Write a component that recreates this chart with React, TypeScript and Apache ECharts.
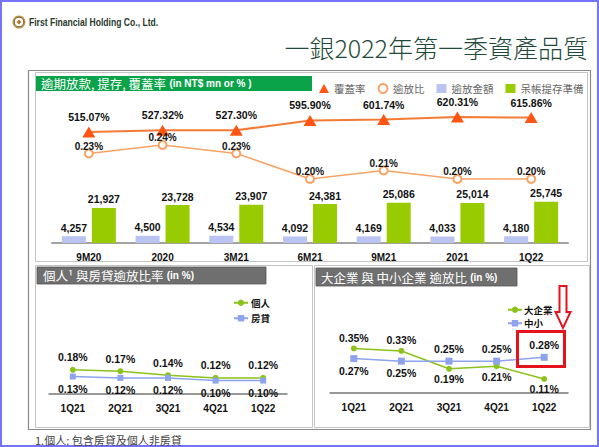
import React, { useEffect, useRef } from "react";
import * as echarts from "echarts";

// ---- data ----
const topCategories = ["9M20", "2020", "3M21", "6M21", "9M21", "2021", "1Q22"];
const nplAmount = [4257, 4500, 4534, 4092, 4169, 4033, 4180];
const provisions = [21927, 23728, 23907, 24381, 25086, 25014, 25745];
const coverageRatio = [515.07, 527.32, 527.3, 595.9, 601.74, 620.31, 615.86];
const nplRatio = [0.23, 0.24, 0.23, 0.2, 0.21, 0.2, 0.2];

const quarters = ["1Q21", "2Q21", "3Q21", "4Q21", "1Q22"];
const personal = [0.18, 0.17, 0.14, 0.12, 0.12];
const mortgage = [0.13, 0.12, 0.12, 0.1, 0.1];
const corporate = [0.35, 0.33, 0.19, 0.21, 0.11];
const sme = [0.27, 0.25, 0.25, 0.25, 0.28];

const corporateLabelPos = ["top", "top", "bottom", "bottom", "bottom"];
const smeLabelPos = ["bottom", "bottom", "top", "top", "top"];

const NUM_FONT = "'Liberation Sans', Arial, Helvetica, sans-serif";
const CJK_FONT = "'Noto Sans CJK TC', 'Noto Sans CJK SC', sans-serif";

const GREEN = "#99cc00";
const BLUE_BAR = "#b9c4f2";
const ORANGE = "#f47b36";
const ORANGE_LIGHT = "#f8a366";
const LINE_GREEN = "#8cc21c";
const LINE_BLUE = "#8ea3ee";

const numLabel = {
  show: true,
  fontFamily: NUM_FONT,
  fontWeight: "bold" as const,
  fontSize: 10.5,
  color: "#111",
};

export default function App() {
  const ref = useRef<HTMLDivElement>(null);

  useEffect(() => {
    if (!ref.current) return;
    const chart = echarts.init(ref.current, undefined, { renderer: "svg" });

    const pct = (p: any) => Number(p.value).toFixed(2) + "%";

    const option: any = {
      animation: false,
      backgroundColor: "#fff",
      grid: [
        { left: 52, width: 516, top: 100, height: 143 },
        { left: 49, width: 238, top: 300, height: 94 },
        { left: 330, width: 238, top: 300, height: 93 },
      ],
      xAxis: [
        {
          type: "category",
          gridIndex: 0,
          data: topCategories,
          axisLine: { lineStyle: { color: "#a3a3a3", width: 2 } },
          axisTick: { show: false },
          axisLabel: { fontFamily: NUM_FONT, fontWeight: "bold", fontSize: 10, color: "#111", margin: 9 },
        },
        {
          type: "category",
          gridIndex: 1,
          data: quarters,
          axisLine: { lineStyle: { color: "#777", width: 1.5 } },
          axisTick: { show: false },
          axisLabel: { fontFamily: NUM_FONT, fontWeight: "bold", fontSize: 10, color: "#111", margin: 9 },
        },
        {
          type: "category",
          gridIndex: 2,
          data: quarters,
          axisLine: { lineStyle: { color: "#777", width: 1.5 } },
          axisTick: { show: false },
          axisLabel: { fontFamily: NUM_FONT, fontWeight: "bold", fontSize: 10, color: "#111", margin: 9 },
        },
      ],
      yAxis: [
        { type: "value", gridIndex: 0, min: 0, max: 89400, show: false, splitLine: { show: false } },
        { type: "value", gridIndex: 0, min: -262, max: 739, show: false, splitLine: { show: false } },
        { type: "value", gridIndex: 0, min: 0.1247, max: 0.2929, show: false, splitLine: { show: false } },
        { type: "value", gridIndex: 1, min: 0, max: 0.7, show: false, splitLine: { show: false } },
        { type: "value", gridIndex: 2, min: 0, max: 0.73, show: false, splitLine: { show: false } },
      ],
      legend: [
        {
          left: 319,
          top: 83,
          padding: 0,
          itemWidth: 10,
          itemHeight: 9,
          itemGap: 12,
          textStyle: { fontFamily: CJK_FONT, fontSize: 10.5, color: "#666" },
          data: [
            { name: "覆蓋率", icon: "triangle" },
            { name: "逾放比", icon: "emptyCircle" },
            { name: "逾放金額", icon: "rect" },
            { name: "呆帳提存準備", icon: "rect" },
          ],
        },
        {
          left: 233,
          top: 298,
          padding: 0,
          orient: "vertical",
          itemWidth: 14,
          itemHeight: 8,
          itemGap: 6,
          textStyle: { fontFamily: CJK_FONT, fontSize: 9.5, fontWeight: "bold", color: "#111", padding: [0, 0, 0, -2] },
          data: ["個人", "房貸"],
        },
        {
          left: 507,
          top: 305,
          padding: 0,
          orient: "vertical",
          itemWidth: 14,
          itemHeight: 8,
          itemGap: 4,
          textStyle: { fontFamily: CJK_FONT, fontSize: 9.5, fontWeight: "bold", color: "#111", padding: [0, 0, 0, -3] },
          data: ["大企業", "中小"],
        },
      ],
      series: [
        {
          name: "逾放金額",
          type: "bar",
          xAxisIndex: 0,
          yAxisIndex: 0,
          data: nplAmount,
          barWidth: 24,
          barGap: "25%",
          itemStyle: { color: BLUE_BAR },
          label: {
            ...numLabel,
            position: "top",
            distance: 3,
            formatter: (p: any) => Number(p.value).toLocaleString("en-US"),
          },
        },
        {
          name: "呆帳提存準備",
          type: "bar",
          xAxisIndex: 0,
          yAxisIndex: 0,
          data: provisions,
          barWidth: 24,
          barGap: "25%",
          itemStyle: { color: GREEN },
          label: {
            ...numLabel,
            position: "top",
            distance: 3,
            formatter: (p: any) => Number(p.value).toLocaleString("en-US"),
          },
        },
        {
          name: "覆蓋率",
          type: "line",
          xAxisIndex: 0,
          yAxisIndex: 1,
          data: coverageRatio,
          symbol: "triangle",
          symbolSize: [13, 11],
          lineStyle: { color: ORANGE, width: 2 },
          itemStyle: { color: "#ff5512" },
          label: { ...numLabel, position: "top", distance: 4, formatter: pct },
        },
        {
          name: "逾放比",
          type: "line",
          xAxisIndex: 0,
          yAxisIndex: 2,
          data: nplRatio,
          symbol: "emptyCircle",
          symbolSize: 8,
          lineStyle: { color: ORANGE_LIGHT, width: 1.5 },
          itemStyle: { color: ORANGE_LIGHT, borderWidth: 1.5 },
          label: { ...numLabel, fontSize: 10, position: "top", distance: -3, formatter: pct },
        },
        {
          name: "個人",
          type: "line",
          xAxisIndex: 1,
          yAxisIndex: 3,
          data: personal,
          symbol: "circle",
          symbolSize: 6,
          lineStyle: { color: LINE_GREEN, width: 1.5 },
          itemStyle: { color: LINE_GREEN },
          label: { ...numLabel, position: "top", distance: 4, formatter: pct },
        },
        {
          name: "房貸",
          type: "line",
          xAxisIndex: 1,
          yAxisIndex: 3,
          data: mortgage,
          symbol: "rect",
          symbolSize: 6,
          lineStyle: { color: LINE_BLUE, width: 1.5 },
          itemStyle: { color: LINE_BLUE },
          label: { ...numLabel, position: "bottom", distance: 4, formatter: pct },
        },
        {
          name: "大企業",
          type: "line",
          xAxisIndex: 2,
          yAxisIndex: 4,
          data: corporate.map((v, i) => ({ value: v, label: { position: corporateLabelPos[i] } })),
          symbol: "circle",
          symbolSize: 6,
          lineStyle: { color: LINE_GREEN, width: 1.5 },
          itemStyle: { color: LINE_GREEN },
          label: { ...numLabel, distance: 2, formatter: pct },
        },
        {
          name: "中小",
          type: "line",
          xAxisIndex: 2,
          yAxisIndex: 4,
          data: sme.map((v, i) => ({ value: v, label: { position: smeLabelPos[i] } })),
          symbol: "rect",
          symbolSize: 7,
          lineStyle: { color: LINE_BLUE, width: 1.5 },
          itemStyle: { color: LINE_BLUE },
          label: { ...numLabel, distance: 3, formatter: pct },
        },
      ],
      graphic: [
        // page border
        { type: "rect", z: -10, shape: { x: 1, y: 1, width: 597, height: 445 }, style: { fill: "none", stroke: "#7474ff", lineWidth: 2 } },
        // logo
        { type: "circle", shape: { cx: 19, cy: 22, r: 6.5 }, style: { fill: "#c59a43" } },
        { type: "circle", shape: { cx: 19, cy: 22, r: 4.8 }, style: { fill: "#fff", stroke: "#4a3a22", lineWidth: 0.8 } },
        { type: "polygon", shape: { points: [[19, 19.5], [21.5, 22], [19, 24.5], [16.5, 22]] }, style: { fill: "#b5782c" } },
        {
          type: "text",
          x: 29,
          y: 22,
          scaleX: 0.78,
          style: {
            text: "First Financial Holding Co., Ltd.",
            fontFamily: NUM_FONT,
            fontWeight: "bold",
            fontSize: 11,
            fill: "#2b3a2e",
            textVerticalAlign: "middle",
          },
        },
        // title
        {
          type: "text",
          x: 588,
          y: 47,
          style: {
            text: "一銀2022年第一季資產品質",
            fontFamily: CJK_FONT,
            fontWeight: 300,
            fontSize: 25,
            fill: "#1f4a3b",
            textAlign: "right",
            textVerticalAlign: "middle",
          },
        },
        // frames
        { type: "rect", z: -5, shape: { x: 28.5, y: 70.5, width: 562, height: 359 }, style: { fill: "none", stroke: "#8a8a8a", lineWidth: 1.2 } },
        { type: "rect", z: -5, shape: { x: 35.5, y: 72.5, width: 552, height: 189 }, style: { fill: "none", stroke: "#c4c4c4", lineWidth: 1 } },
        { type: "rect", z: -5, shape: { x: 35.5, y: 265.5, width: 277, height: 162 }, style: { fill: "none", stroke: "#c4c4c4", lineWidth: 1 } },
        { type: "rect", z: -5, shape: { x: 314.5, y: 265.5, width: 275, height: 162 }, style: { fill: "none", stroke: "#c4c4c4", lineWidth: 1 } },
        // headers
        { type: "rect", shape: { x: 36, y: 76, width: 276, height: 15 }, style: { fill: "#0aa34a" } },
        {
          type: "text",
          x: 41,
          y: 83.5,
          style: {
            text: "{a|逾期放款, 提存, 覆蓋率} {b|(in NT$ mn or % )}",
            textVerticalAlign: "middle",
            rich: {
              a: { fontFamily: CJK_FONT, fontSize: 12.5, fill: "#fff" },
              b: { fontFamily: NUM_FONT, fontWeight: "bold", fontSize: 10, fill: "#fff" },
            },
          },
        },
        { type: "rect", shape: { x: 37, y: 267, width: 229, height: 17 }, style: { fill: "#6f6f6f", stroke: "#555", lineWidth: 0.8 } },
        {
          type: "text",
          x: 43,
          y: 275.5,
          style: {
            text: "{a|個人¹ 與房貸逾放比率} {b|(in %)}",
            textVerticalAlign: "middle",
            rich: {
              a: { fontFamily: CJK_FONT, fontSize: 12.5, fill: "#fff" },
              b: { fontFamily: NUM_FONT, fontWeight: "bold", fontSize: 10, fill: "#fff" },
            },
          },
        },
        { type: "rect", shape: { x: 316, y: 268, width: 201, height: 18 }, style: { fill: "#6f6f6f", stroke: "#555", lineWidth: 0.8 } },
        {
          type: "text",
          x: 321,
          y: 277,
          style: {
            text: "{a|大企業 與 中小企業 逾放比} {b|(in %)}",
            textVerticalAlign: "middle",
            rich: {
              a: { fontFamily: CJK_FONT, fontSize: 12.5, fill: "#fff" },
              b: { fontFamily: NUM_FONT, fontWeight: "bold", fontSize: 10, fill: "#fff" },
            },
          },
        },
        // highlight box and arrow
        { type: "rect", z: 20, shape: { x: 517.5, y: 331.5, width: 47, height: 35 }, style: { fill: "none", stroke: "#e5141c", lineWidth: 3 } },
        {
          type: "polygon",
          z: 20,
          shape: { points: [[559.5, 286], [566.5, 286], [566.5, 312], [570.5, 312], [563, 328], [555.5, 312], [559.5, 312]] },
          style: { fill: "#fff", stroke: "#e5141c", lineWidth: 2 },
        },
        // footnote
        {
          type: "text",
          x: 35,
          y: 440,
          style: {
            text: "1.個人: 包含房貸及個人非房貸",
            fontFamily: CJK_FONT,
            fontSize: 11,
            fill: "#444",
            textVerticalAlign: "middle",
          },
        },
      ],
    };

    chart.setOption(option);
    return () => chart.dispose();
  }, []);

  return (
    <div
      ref={ref}
      style={{ position: "fixed", left: 0, top: 0, width: 599, height: 447, background: "#fff" }}
    />
  );
}
